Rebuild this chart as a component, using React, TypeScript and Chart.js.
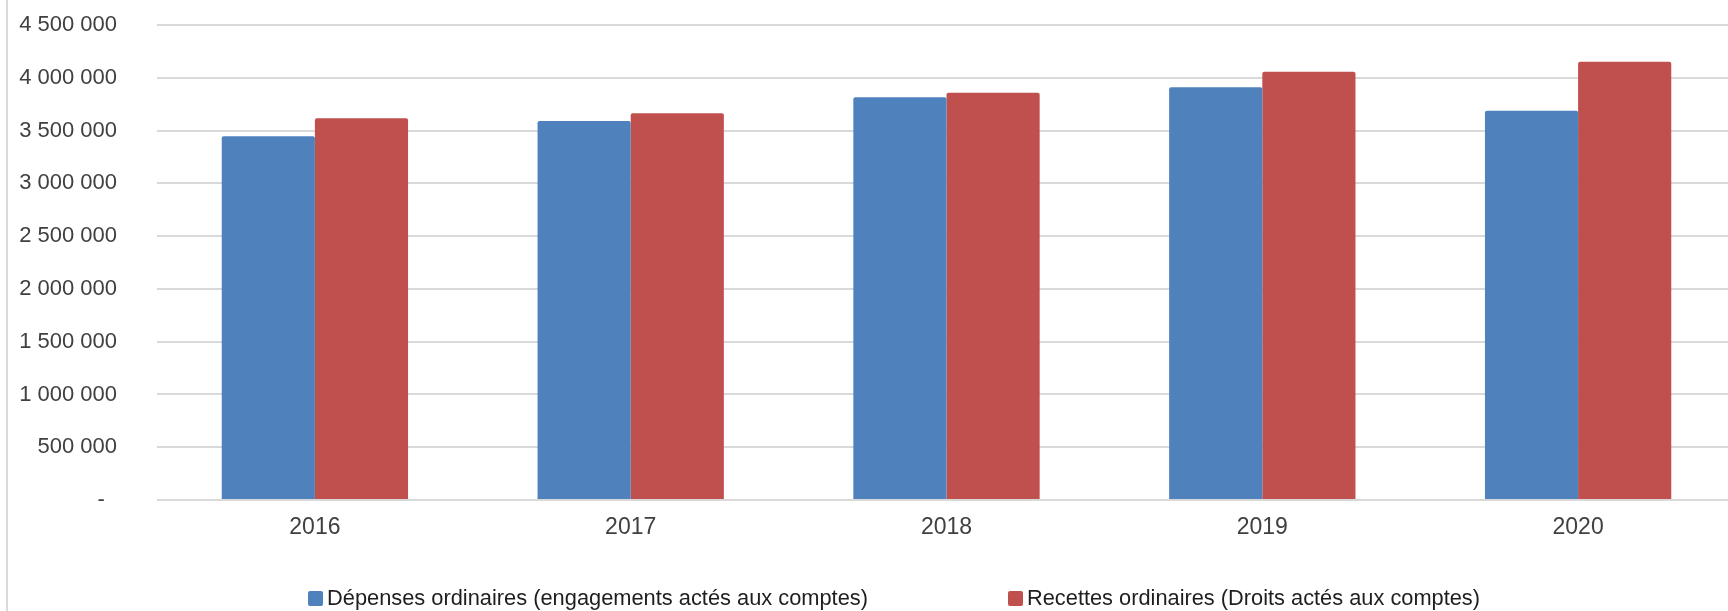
import React, { useEffect, useRef } from 'react';
import { Chart, registerables } from 'chart.js';

Chart.register(...registerables);

const years = ['2016', '2017', '2018', '2019', '2020'];
const depenses = [3445000, 3590000, 3815000, 3910000, 3688000];
const recettes = [3616000, 3664000, 3859000, 4058000, 4152000];
const seriesLabels = [
  'Dépenses ordinaires (engagements actés aux comptes)',
  'Recettes ordinaires (Droits actés aux comptes)',
];
const seriesColors = ['#4F81BD', '#C0504D'];
const yMin = 0;
const yMax = 4500000;
const yStep = 500000;

const fmt = (v: number) =>
  v === 0 ? '-  ' : String(Math.round(v)).replace(/\B(?=(\d{3})+(?!\d))/g, ' ');

const legendPlugin = {
  id: 'customLegend',
  afterDraw(chart: any, _args: any, opts: any) {
    const ctx = chart.ctx as CanvasRenderingContext2D;
    ctx.save();
    ctx.font = opts.font;
    ctx.textBaseline = 'middle';
    ctx.textAlign = 'left';
    chart.data.datasets.forEach((ds: any, i: number) => {
      const x = opts.xs[i];
      const y = opts.y;
      ctx.fillStyle = ds.backgroundColor;
      ctx.beginPath();
      (ctx as any).roundRect(x, y - 7, 15, 15, 2);
      ctx.fill();
      ctx.fillStyle = opts.color;
      const w = ctx.measureText(ds.label).width;
      const sx = opts.widths[i] / w;
      ctx.save();
      ctx.translate(x + 19, y + 1);
      ctx.scale(sx, 1);
      ctx.fillText(ds.label, 0, 0);
      ctx.restore();
    });
    ctx.restore();
  },
};

export default function App() {
  const ref = useRef<HTMLCanvasElement | null>(null);

  useEffect(() => {
    if (!ref.current) return;
    const baseFont = "'Liberation Sans', Arial, sans-serif";
    const chart = new Chart(ref.current, {
      type: 'bar',
      data: {
        labels: years,
        datasets: [
          {
            label: seriesLabels[0],
            data: depenses,
            backgroundColor: seriesColors[0],
            borderRadius: 2,
            borderSkipped: 'start',
            categoryPercentage: 0.59,
            barPercentage: 1.0,
          },
          {
            label: seriesLabels[1],
            data: recettes,
            backgroundColor: seriesColors[1],
            borderRadius: 2,
            borderSkipped: 'start',
            categoryPercentage: 0.59,
            barPercentage: 1.0,
          },
        ],
      },
      options: {
        responsive: false,
        animation: false,
        devicePixelRatio: 1,
        layout: { padding: { top: 25, left: 0, right: 0, bottom: 0 } },
        plugins: {
          legend: { display: false },
          tooltip: { enabled: false },
          customLegend: {
            xs: [308, 1008],
            y: 598,
            widths: [541, 453],
            font: "22px 'Liberation Sans', Arial, sans-serif",
            color: '#1e1e1e',
          },
        } as any,
        scales: {
          x: {
            grid: { display: false, drawTicks: false },
            border: { display: false },
            ticks: {
              font: { family: baseFont, size: 23 },
              color: '#404040',
              padding: 14,
            },
            afterFit: (scale: any) => {
              scale.height = 111;
            },
          },
          y: {
            min: yMin,
            max: yMax,
            grid: {
              color: '#d9d9d9',
              lineWidth: 2,
              drawTicks: true,
              tickLength: 40,
              tickColor: 'rgba(0,0,0,0)',
            },
            border: { display: false },
            ticks: {
              stepSize: yStep,
              font: { family: baseFont, size: 22 },
              color: '#404040',
              padding: 0,
              callback: (v: any) => fmt(Number(v)),
            },
            afterFit: (scale: any) => {
              scale.width = 157;
            },
          },
        },
      },
      plugins: [legendPlugin],
    });
    return () => chart.destroy();
  }, []);

  return (
    <div
      style={{
        position: 'fixed',
        left: 0,
        top: 0,
        width: 1728,
        height: 611,
        overflow: 'hidden',
        background: '#ffffff',
      }}
    >
      <canvas ref={ref} width={1736} height={611} style={{ display: 'block' }} />
      <div
        style={{
          position: 'absolute',
          left: 6,
          top: 0,
          width: 2,
          height: 611,
          background: '#d9d9d9',
        }}
      />
    </div>
  );
}
